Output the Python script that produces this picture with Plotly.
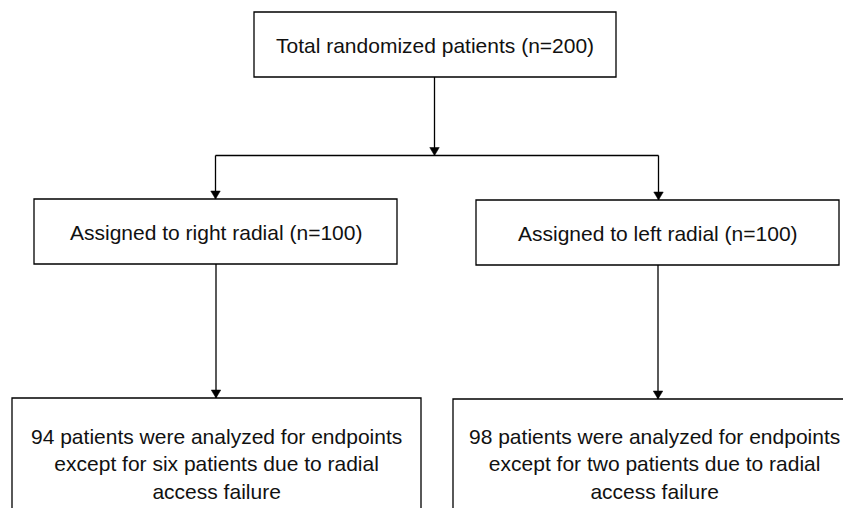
import plotly.graph_objects as go

# Flowchart content
box_labels = [
    "Total randomized patients (n=200)",
    "Assigned to right radial (n=100)",
    "Assigned to left radial (n=100)",
    "94 patients were analyzed for endpoints<br>except for six patients due to radial<br>access failure",
    "98 patients were analyzed for endpoints<br>except for two patients due to radial<br>access failure",
]

# Layout geometry (screen pixels): x0, y0, x1, y1
boxes = [
    (254, 12, 616, 77),
    (34, 199, 397, 264),
    (476, 200, 839, 265),
    (12, 398, 421, 560),
    (453, 399, 863, 560),
]
text_y = [45, 232, 233, 464, 464]
text_x = [435, 216, 658, 216.5, 654.5]

# The page body has an 8px margin; size the figure to the visible area
# and map data coordinates to screen pixels.
OFF = 8
W, H = 851, 508
FW, FH = W - OFF, H - OFF
LC = "#000000"
LW = 1.3

fig = go.Figure()
shapes = []
for (x0, y0, x1, y1) in boxes:
    shapes.append(dict(type="rect", x0=x0, y0=y0, x1=x1, y1=y1,
                       line=dict(color=LC, width=LW), fillcolor="white", layer="below"))

def vline(x, y0, y1):
    shapes.append(dict(type="line", x0=x, x1=x, y0=y0, y1=y1, line=dict(color=LC, width=LW)))

def hline(y, x0, x1):
    shapes.append(dict(type="line", x0=x0, x1=x1, y0=y, y1=y, line=dict(color=LC, width=LW)))

def arrowhead(x, ytip, w=9.5, h=8):
    shapes.append(dict(type="path",
                       path=f"M {x - w/2},{ytip - h} L {x + w/2},{ytip - h} L {x},{ytip} Z",
                       fillcolor=LC, line=dict(color=LC, width=0.5)))

# top box down to split line
vline(434.5, 77, 155.5)
arrowhead(434.5, 155.5)
hline(155.5, 215.5, 658.5)
# branches to assigned boxes
vline(215.5, 155.5, 199)
arrowhead(215.5, 199)
vline(658.5, 155.5, 200)
arrowhead(658.5, 200)
# assigned boxes to analyzed boxes
vline(216, 264, 398)
arrowhead(216, 398)
vline(658, 265, 399)
arrowhead(658, 399)

annotations = []
for lbl, x, y in zip(box_labels, text_x, text_y):
    annotations.append(dict(x=x, y=y, xref="x", yref="y", text=lbl, showarrow=False,
                            font=dict(family="Liberation Sans, Arial, sans-serif", size=21, color="#111111"),
                            align="center", xanchor="center", yanchor="middle"))

fig.update_layout(
    width=FW, height=FH,
    margin=dict(l=0, r=0, t=0, b=0),
    paper_bgcolor="white", plot_bgcolor="white",
    xaxis=dict(range=[OFF, W], visible=False, fixedrange=True),
    yaxis=dict(range=[H, OFF], visible=False, fixedrange=True),
    shapes=shapes, annotations=annotations,
    showlegend=False,
)

fig.write_html("out.html")
